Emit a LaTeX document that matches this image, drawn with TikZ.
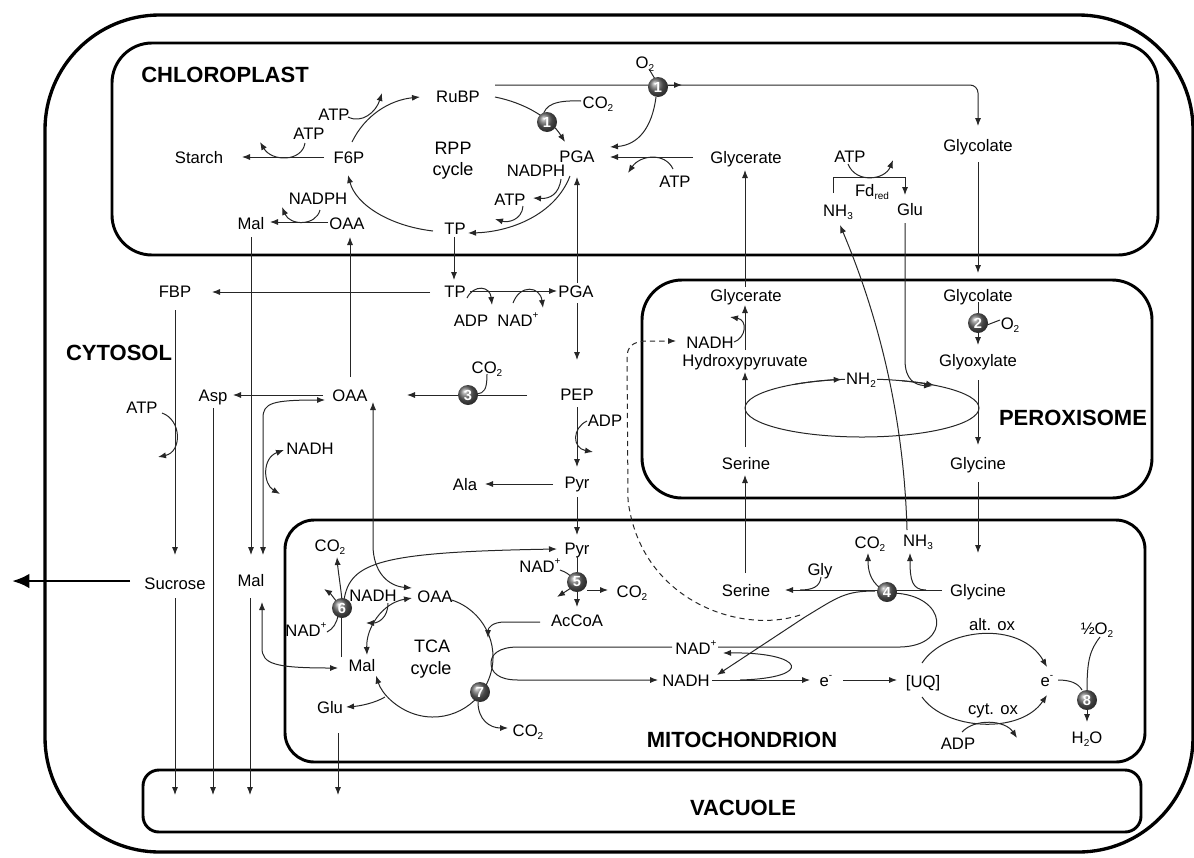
\documentclass[tikz,border=0pt]{standalone}
\usepackage{fontspec}
\setmainfont{Liberation Sans}
\usetikzlibrary{arrows.meta}
\newcommand\lsb[1]{\raisebox{-0.4ex}{\fontsize{7.5}{8}\selectfont #1}}
\newcommand\lsp[1]{\raisebox{0.85ex}{\fontsize{7.5}{8}\selectfont #1}}
\begin{document}
\begin{tikzpicture}[x=0.75pt,y=-0.75pt,
  lbl/.style={font=\fontsize{12.5}{14}\selectfont, text height=9pt, text depth=0pt, inner sep=0pt},
  big/.style={font=\fontsize{13.5}{15}\selectfont, text height=9.7pt, text depth=0pt, inner sep=0pt},
  ttl/.style={font=\bfseries\fontsize{16.5}{18}\selectfont, text height=11.8pt, text depth=0pt, inner sep=0pt},
  enz/.style={circle, shading=ball, ball color=black!60, minimum size=15pt, inner sep=0pt, text=white, font=\bfseries\fontsize{11}{11}\selectfont},
  comp/.style={line width=2.2pt},
  ln/.style={line width=0.75pt, draw=black!85},
  ar/.style={ln, -{Latex[length=6pt,width=4.6pt]}},
  dar/.style={ln, {Latex[length=6pt,width=4.6pt]}-{Latex[length=6pt,width=4.6pt]}},
]
\useasboundingbox (0,0) rectangle (1194,857);

% compartments
\draw[line width=2.5pt, rounded corners=86pt] (45,15) rectangle (1193,852);
\draw[comp, rounded corners=30pt] (112,43) rectangle (1158,255);
\draw[comp, rounded corners=30pt] (642,280) rectangle (1152,498);
\draw[comp, rounded corners=22pt] (285,520) rectangle (1145,762);
\draw[comp, rounded corners=12pt] (143,770) rectangle (1141,832);

% titles
\node[ttl] (tchl) at (225,75) {CHLOROPLAST};
\node[ttl] (tcyt) at (119,353) {CYTOSOL};
\node[ttl] (tper) at (1073,418) {PEROXISOME};
\node[ttl] (tmit) at (742,740) {MITOCHONDRION};
\node[ttl] (tvac) at (743,808) {VACUOLE};

% chloroplast labels
\node[lbl] (rubp) at (458,96) {RuBP};
\node[lbl] (o2a) at (645,62) {O\lsb{2}};
\node[lbl] (co2a) at (598,102) {CO\lsb{2}};
\node[lbl] (pgac) at (577,156) {PGA};
\node[lbl] (glyc) at (746,157) {Glycerate};
\node[lbl] (atpg) at (675,181) {ATP};
\node[lbl] (nadphp) at (536,170) {NADPH};
\node[lbl] (atpp) at (510,199) {ATP};
\node[big] (rpp) at (453,148) {RPP};
\node[big] (rppc) at (453,169) {cycle};
\node[lbl] (starch) at (199,157) {Starch};
\node[lbl] (f6p) at (349,157) {F6P};
\node[lbl] (atpf1) at (309,133) {ATP};
\node[lbl] (atpf2) at (334,114) {ATP};
\node[lbl] (nadphm) at (318,198) {NADPH};
\node[lbl] (malc) at (251,223) {Mal};
\node[lbl] (oaac) at (347,223) {OAA};
\node[lbl] (tpc) at (455,228) {TP};
\node[lbl] (glyco) at (978,145) {Glycolate};
\node[lbl] (atpn) at (850,156) {ATP};
\node[lbl] (fd) at (872,190) {Fd\lsb{red}};
\node[lbl] (nh3c) at (838,210) {NH\lsb{3}};
\node[lbl] (gluc) at (910,209) {Glu};

% cytosol labels
\node[lbl] (fbp) at (175,291) {FBP};
\node[lbl] (tp2) at (455,291) {TP};
\node[lbl] (pga2) at (576,291) {PGA};
\node[lbl] (adp1) at (471,320) {ADP};
\node[lbl] (nad1) at (518,320) {NAD\lsp{+}};
\node[lbl] (co2b) at (487,367) {CO\lsb{2}};
\node[lbl] (pep) at (577,394) {PEP};
\node[lbl] (asp) at (213,395) {Asp};
\node[lbl] (oaa2) at (350,395) {OAA};
\node[lbl] (atpy) at (142,407) {ATP};
\node[lbl] (nadhy) at (310,448) {NADH};
\node[lbl] (adp2) at (605,420) {ADP};
\node[lbl] (pyr) at (577,482) {Pyr};
\node[lbl] (ala) at (465,484) {Ala};
\node[lbl] (suc) at (175,583) {Sucrose};
\node[lbl] (mal2) at (251,580) {Mal};

% peroxisome labels
\node[lbl] (glyp) at (746,295) {Glycerate};
\node[lbl] (nadhp) at (710,342) {NADH};
\node[lbl] (hpyr) at (745,360) {Hydroxypyruvate};
\node[lbl] (serp) at (746,463) {Serine};
\node[lbl] (glcp) at (978,295) {Glycolate};
\node[lbl] (o2p) at (1010,323) {O\lsb{2}};
\node[lbl] (glox) at (978,360) {Glyoxylate};
\node[lbl] (glyp2) at (978,463) {Glycine};

% mitochondrion labels
\node[lbl] (pyrm) at (577,548) {Pyr};
\node[lbl] (nad5) at (540,566) {NAD\lsp{+}};
\node[lbl] (co25) at (632,591) {CO\lsb{2}};
\node[lbl] (accoa) at (577,620) {AcCoA};
\node[lbl] (co26) at (330,545) {CO\lsb{2}};
\node[lbl] (nadh6) at (373,595) {NADH};
\node[lbl] (nad6) at (306,630) {NAD\lsp{+}};
\node[lbl] (malm) at (362,665) {Mal};
\node[lbl] (oaam) at (435,596) {OAA};
\node[big] (tca1) at (432,646) {TCA};
\node[big] (tca2) at (431,668) {cycle};
\node[lbl] (co27) at (528,730) {CO\lsb{2}};
\node[lbl] (glum) at (330,707) {Glu};
\node[lbl] (serm) at (746,590) {Serine};
\node[lbl] (glym) at (820,569) {Gly};
\node[lbl] (co24) at (870,542) {CO\lsb{2}};
\node[lbl] (nh3m) at (918,540) {NH\lsb{3}};
\node[lbl] (glycm) at (978,590) {Glycine};
\node[lbl] (nadm) at (696,648) {NAD\lsp{+}};
\node[lbl] (nadhm) at (686,680) {NADH};
\node[lbl] (em) at (826,680) {e\lsp{-}};
\node[lbl] (uq) at (923,681) {[UQ]};
\node[lbl] (altox) at (992,624) {alt. ox};
\node[lbl] (cytox) at (993,708) {cyt. ox};
\node[lbl] (adpm) at (958,743) {ADP};
\node[lbl] (er) at (1047,680) {e\lsp{-}};
\node[lbl] (ho2) at (1097,628) {½O\lsb{2}};
\node[lbl] (h2o) at (1087,737) {H\lsb{2}O};

% ---- chloroplast connectors
\draw[ar, rounded corners=6pt] (495,85) -- (978,85) -- (978,126);
\draw[ar] (668,85) -- (682,85);
\draw[ln] (649,69) -- (655,79);
\draw[ar] (656,97) .. controls (652,128) and (638,145) .. (610,147);
\draw[ar] (495,97) .. controls (525,103) and (550,118) .. (565,142);
\draw[ln] (581,101) .. controls (555,100) and (545,105) .. (543,116);
\draw[ar] (693,157) -- (610,157);
\draw[ar] (673,169) .. controls (665,152) and (640,155) .. (628,173);
\draw[ar] (570,176) .. controls (555,215) and (510,232) .. (468,233);
\draw[ar] (561,179) .. controls (559,194) and (550,199) .. (533,198);
\draw[ar] (523,206) .. controls (522,220) and (508,223) .. (495,219);
\draw[ar] (352,142) .. controls (365,115) and (390,100) .. (420,97);
\draw[ar] (348,117) .. controls (362,124) and (376,112) .. (382,93);
\draw[ar] (305,143) .. controls (302,162) and (272,162) .. (260,142);
\draw[ar] (324,157) -- (242,157);
\draw[ar] (433,231) .. controls (390,226) and (356,205) .. (348,175);
\draw[ar] (328,222) -- (270,222);
\draw[ar] (320,210) .. controls (316,226) and (290,226) .. (282,207);
\draw[ar] (978,162) -- (978,273);
\draw[ar] (833,193) -- (833,177) -- (905,177) -- (905,195);
\draw[ar] (848,164) .. controls (856,184) and (885,180) .. (893,160);
\draw[ar] (905,223) -- (905,360) .. controls (905,380) and (915,385) .. (932,386);
\draw[ar] (907,530) .. controls (904,420) and (880,320) .. (840,225);

% ---- cytosol connectors
\draw[ar] (745,287) -- (745,170);
\draw[ar] (577,283) -- (577,177);
\draw[ar] (454,237) -- (454,280);
\draw[ar] (430,292) -- (212,292);
\draw[ar] (251,237) -- (251,555);
\draw[ar] (350,377) -- (350,237);
\draw[ar] (470,291) -- (557,291);
\draw[ar] (467,298) .. controls (474,284) and (490,286) .. (492,305);
\draw[ar] (513,303) .. controls (520,284) and (540,286) .. (543,308);
\draw[ar] (577,303) -- (577,360);
\draw[ar] (527,395) -- (407,395);
\draw[ln] (487,374) .. controls (487,390) and (484,393) .. (477,394);
\draw[ar] (577,407) -- (577,467);
\draw[ar] (587,421) .. controls (572,428) and (572,448) .. (593,452);
\draw[ar] (553,484) -- (485,484);
\draw[ar] (577,497) -- (577,535);
\draw[ar] (323,395) -- (233,395);
\draw[ar] (213,408) -- (213,795);
\draw[ar] (175,310) -- (175,555);
\draw[ar] (175,598) -- (175,795);
\draw[line width=2.2pt, -{Latex[length=13pt,width=11pt]}] (130,581) -- (12,581);
\draw[ar] (250,598) -- (250,795);
\draw[ar] (162,413) .. controls (182,420) and (182,452) .. (158,457);
\draw[dar] (263,555) -- (263,418) .. controls (263,403) and (272,400) .. (325,400);
\draw[dar] (280,494) .. controls (263,484) and (262,458) .. (284,450);
\draw[dar] (373,402) -- (373,545) .. controls (373,572) and (388,586) .. (412,588);

% ---- mitochondrion connectors
\draw[dar] (262,602) -- (262,648) .. controls (262,664) and (275,668) .. (338,668);
\draw[ln] (341,657) -- (341,617);
\draw[ar] (342,600) .. controls (340,582) and (338,570) .. (337,557);
\draw[ar] (337,602) .. controls (333,597) and (330,593) .. (324,589);
\draw[ar] (344,600) .. controls (350,562) and (380,552) .. (557,549);
\draw[ln] (327,632) .. controls (333,629) and (337,623) .. (338,615);
\draw[ar] (433,657) ++(-72:60) arc[start angle=-72, end angle=162, radius=60];
\draw[dar] (412,598) .. controls (382,603) and (366,628) .. (367,655);
\draw[ar] (388,603) .. controls (388,618) and (378,623) .. (366,623);
\draw[ar] (385,697) .. controls (375,703) and (360,706) .. (346,707);
\draw[ar] (338,733) -- (338,795);
\draw[ar] (478,702) .. controls (478,720) and (490,728) .. (508,728);
\draw[ar] (540,622) -- (505,622) .. controls (492,622) and (488,628) .. (488,638);
\draw[ar] (672,647) -- (518,647) .. controls (498,647) and (491,655) .. (491,663) .. controls (491,672) and (498,680) .. (518,680) -- (658,680);
\draw[ar] (712,680) -- (810,680);
\draw[ar] (740,680) .. controls (815,678) and (805,652) .. (723,653);
\draw[ar] (843,680) -- (897,680);
\draw[ar] (942,590) -- (785,590);
\draw[ln] (821,577) .. controls (820,587) and (812,590) .. (800,590);
\draw[ar] (880,588) .. controls (870,580) and (868,570) .. (868,553);
\draw[ar] (926,590) .. controls (912,590) and (910,580) .. (910,553);
\draw[ln] (893,593) .. controls (948,595) and (952,646) .. (900,647) -- (718,647);
\draw[ar] (875,591) .. controls (845,591) and (838,597) .. (805,617) -- (717,675);
\draw[ln, dash pattern=on 4pt off 3pt, -{Latex[length=6pt,width=4.6pt]}] (800,615) .. controls (740,635) and (640,600) .. (628,500) -- (627,358) .. controls (627,346) and (633,342) .. (645,341) -- (676,341);
\draw[ar] (745,573) -- (745,475);
\draw[ar] (978,482) -- (978,553);

% ---- peroxisome connectors
\draw[ar] (978,302) -- (978,345);
\draw[ln] (1000,320) -- (987,325);
\draw[ar] (978,380) -- (978,445);
\draw[ln] (862,408) ellipse [x radius=117, y radius=29];
\draw[ar] (862,408) ++(235:117 and 29) arc[start angle=235, end angle=260, x radius=117, y radius=29];
\draw[ar] (862,408) ++(290:117 and 29) arc[start angle=290, end angle=308, x radius=117, y radius=29];
\node[lbl, fill=white, inner sep=1pt] (nh2) at (861,378) {NH\lsb{2}};
\draw[ar] (734,342) .. controls (746,338) and (748,320) .. (730,317);
\draw[ar] (745,350) -- (745,305);
\draw[ar] (745,447) -- (745,372);

% ---- electron transport
\draw[ar] (922,663) .. controls (945,628) and (1020,620) .. (1047,667);
\draw[ar] (922,697) .. controls (945,730) and (1020,735) .. (1047,695);
\draw[ar] (962,732) .. controls (975,718) and (1005,720) .. (1017,738);
\draw[ln] (1058,680) .. controls (1070,680) and (1078,683) .. (1082,690);
\draw[ln] (1100,637) .. controls (1090,650) and (1087,660) .. (1087,690);
\draw[ar] (1087,708) -- (1087,722);

% ---- PDH (5)
\draw[ln] (577,556) -- (577,575);
\draw[ln] (560,570) .. controls (566,572) and (570,575) .. (571,577);
\draw[ar] (587,590) -- (608,590);
\draw[ar] (571,588) -- (557,597);
\draw[ar] (577,590) -- (577,607);

% enzymes
\node[enz] (e1a) at (658,87) {1};
\node[enz] (e1b) at (547,122) {1};
\node[enz] (e2) at (978,323) {2};
\node[enz] (e3) at (468,395) {3};
\node[enz] (e4) at (887,592) {4};
\node[enz] (e5) at (577,582) {5};
\node[enz] (e6) at (342,608) {6};
\node[enz] (e7) at (480,692) {7};
\node[enz] (e8) at (1087,700) {8};
\end{tikzpicture}
\end{document}
